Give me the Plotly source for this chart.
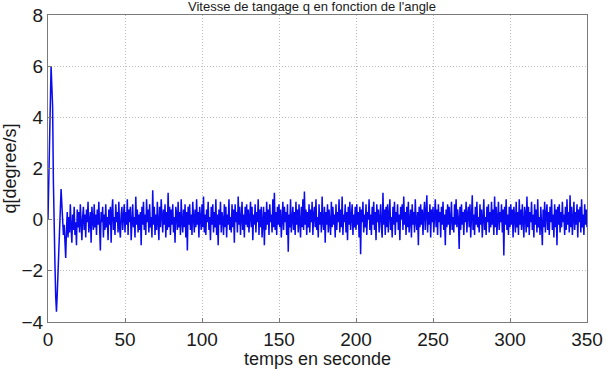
import numpy as np
import plotly.graph_objects as go

# Pitch rate q sampled every 0.5 s
dt = 0.5

q_start = [0.0, 1.5, 3.5, 5.5, 6.0, 5.2, 4.4, 1.5, -1.2, -1.7,
           -3.0, -3.6, -2.9, -2.2, -1.4, -0.4, 0.5, 1.2, 0.6, 0.1]

q_steady = [
    -0.6, -0.2, -0.9, -1.5, -0.4, 0.3, -0.7, 0.1, -0.5, 0.6, -0.3, -0.9, 0.2, -0.4, 0.5, -0.6, -0.1, -1.0, 0.4, -0.3,
    0.3, -0.5, 0.6, -0.2, -0.8, 0.1, 0.5, -0.4, 0.2, -0.7, 0.4, -0.1, 0.7, -0.5, -0.2, 0.3, -0.9, 0.5, 0.0, -0.4,
    0.6, -0.3, 0.2, -0.6, 0.4, -0.2, 0.7, -0.5, -1.2, 0.3, -0.1, 0.5, -0.7, 0.2, -0.4, 0.6, -0.3, 0.1, -0.8, 0.4,
    -0.2, 0.5, -0.9, 0.3, 0.8, -0.4, 0.1, -0.6, 0.6, -0.1, 0.3, -0.5, 0.7, -0.3, -0.7, 0.2, 0.5, -0.4, 0.0, 0.6,
    -0.5, 0.3, -0.2, 0.8, -0.6, 0.4, -0.1, 0.5, -0.8, 0.2, 0.6, -0.3, 0.1, -0.7, 0.9, -0.2, 0.4, -0.5, 0.2, -0.4,
    0.3, -1.0, 0.5, -0.2, 0.7, -0.4, 0.2, -0.6, 0.8, -0.1, 0.4, -0.5, 0.6, -0.3, 0.1, -0.7, 1.15, -0.2, 0.5, -0.6,
    0.2, -0.4, 0.7, -0.1, -0.8, 0.5, -0.3, 0.8, 0.0, -0.5, 0.4, -0.2, 0.6, -0.7, 0.3, -0.4, 1.05, -0.3, 0.5, -0.6,
    0.4, -0.2, 0.6, -0.5, 0.1, -0.9, 0.5, 0.2, -0.4, 0.7, -0.3, 0.3, -0.6, 0.8, -0.1, -0.5, 0.4, -0.3, 0.6, -0.7,
    0.3, -1.2, 0.5, -0.2, 0.6, -0.4, 0.2, -0.6, 0.7, 0.0, -0.5, 0.4, -0.3, 0.8, -0.2, 0.3, -0.7, 0.5, -0.1, -0.4,
    0.6, -0.3, 0.9, -0.5, 0.2, -0.6, 0.4, -0.1, 0.7, -0.4, 0.1, -0.8, 0.5, -0.2, 0.6, -0.5, 0.3, -0.3, 0.8, -0.6,
    0.2, -1.0, 0.4, -0.2, 0.7, -0.5, 0.3, 0.0, -0.6, 0.6, -0.3, 0.5, -0.7, 0.2, -0.2, 0.8, -0.4, 0.1, -0.5, 0.6,
    -0.3, 0.4, -0.9, 0.6, -0.1, 0.3, -0.5, 0.9, -0.2, 0.5, -0.6, 0.1, 0.7, -0.4, 0.2, -0.7, 0.5, -0.2, 0.6, -0.3,
    0.4, -0.5, 0.1, 0.7, -0.3, 0.5, -0.8, 0.2, -0.2, 0.6, -0.5, 0.3, -0.1, 0.8, -0.6, 0.4, -0.3, 0.5, -0.7, 0.2,
    0.5, -1.0, 0.3, -0.4, 0.7, -0.2, 0.4, -0.6, 0.6, -0.1, 0.2, -0.5, 0.8, -0.3, 1.05, -0.4, 0.3, -0.6, 0.5, -0.2,
    0.6, -0.3, 0.4, -0.7, 0.2, 0.7, -0.4, 0.5, -0.1, 0.3, -0.6, 0.6, -1.25, 0.2, -0.3, 0.8, -0.5, 0.1, 0.5, -0.4,
    0.3, -0.6, 0.7, -0.2, 0.4, -0.5, 0.6, -0.1, -0.7, 0.5, -0.3, 0.8, -0.4, 1.1, -0.2, 0.4, -0.6, 0.3, -0.3, 0.6,
    -0.5, 0.4, -0.1, 0.7, -0.6, 0.2, 0.5, -0.3, 0.8, -0.4, 0.1, -0.7, 0.6, -0.2, 0.3, -0.5, 0.9, -0.1, -0.4, 0.5,
    -0.9, 0.3, -0.2, 0.6, -0.5, 0.4, 0.0, -0.6, 0.7, -0.3, 0.5, -0.2, 0.2, -0.7, 0.6, -0.4, 0.3, -0.1, 0.8, -0.5,
    0.4, -0.3, 0.9, -0.6, 0.2, -0.1, 0.6, -0.5, 0.3, -0.8, 0.5, -0.2, 0.7, -0.4, 0.1, 0.6, -0.6, 0.2, -0.3, 0.5,
    -0.4, 0.6, -0.2, 0.3, -0.7, 0.5, -1.35, 0.4, -0.1, 0.7, -0.5, 0.2, -0.3, 0.6, -0.6, 0.3, 0.0, 0.8, -0.4, 0.2,
    -0.6, 0.5, -0.2, 0.7, -0.4, 0.3, -0.8, 0.6, -0.1, 0.4, -0.5, 0.2, 0.6, -0.3, -0.7, 1.05, -0.2, 0.4, -0.6, 0.5,
    -0.3, 0.6, -0.5, 0.2, 0.8, -0.4, 0.1, -0.7, 0.5, -0.2, 0.7, -0.6, 0.3, -0.1, 0.6, -0.4, 0.2, -0.8, 0.5, 0.0,
    0.6, -0.4, 0.9, -0.2, 0.3, -0.6, 0.5, -0.3, 0.7, -0.5, 0.1, 0.4, -0.7, 0.6, -0.2, 0.3, -0.5, 0.8, -0.1, -0.4,
    0.3, -1.0, 0.5, -0.3, 0.6, -0.2, 0.4, -0.6, 0.2, 0.7, -0.4, 0.1, 0.95, -0.5, 0.3, -0.2, 0.6, -0.7, 0.4, -0.1,
    0.5, -0.5, 0.2, 0.8, -0.3, 0.4, -0.6, 0.6, -0.1, 0.3, -0.7, 0.5, -0.2, 0.7, -0.4, 0.2, -1.0, 0.4, -0.3, 0.6,
    -0.2, 0.5, -0.6, 0.3, 0.7, -0.4, 0.1, -0.5, 0.6, -0.2, 0.8, -0.3, 0.4, 0.0, -1.15, 0.5, -0.4, 0.6, -0.2, 0.3,
    -0.6, 0.4, -0.1, 0.7, -0.5, 0.2, 0.5, -0.3, 0.6, -0.7, 0.3, 0.95, -0.4, 0.2, -0.6, 0.5, -0.2, 0.7, -0.3, 0.1,
    -0.5, 0.6, -0.2, 0.4, -0.7, 0.3, 0.8, -0.4, 0.1, -0.6, 0.5, -0.1, 0.6, -0.5, 0.3, -0.3, 0.7, -0.2, 0.4, -0.6,
    0.9, -0.3, 0.5, -0.6, 0.2, 0.7, -0.4, 0.3, -0.1, 0.6, -0.5, 0.4, -1.4, 0.5, -0.2, 0.8, -0.4, 0.2, -0.6, 0.5,
    -0.3, 0.6, -0.2, 0.4, -0.7, 0.5, 0.1, -0.5, 0.7, -0.3, 0.3, -0.6, 0.8, -0.2, 0.4, -0.4, 0.6, -0.1, -0.7, 0.5,
    0.2, -0.5, 0.9, -0.3, 0.5, -0.6, 0.3, -0.1, 0.7, -0.4, 0.2, -0.7, 0.6, -0.2, 0.4, -0.5, 0.8, -0.3, 0.1, -0.6,
    0.5, -0.2, -1.0, 0.4, -0.3, 0.7, -0.5, 0.2, 0.6, -0.4, 0.3, -0.6, 0.5, -0.1, 0.8, -0.4, 0.2, -0.7, 0.6, -0.3,
    0.4, -1.0, 0.5, -0.2, 0.6, -0.5, 0.3, -0.3, 0.7, -0.1, 0.2, -0.6, 0.5, -0.4, 0.8, -0.2, 0.3, -0.5, 0.95, -0.3,
    0.5, -0.6, 0.2, 0.7, -0.4, 0.3, -0.2, 0.6, -0.7, 0.4, -0.1, 0.5, -0.5, 0.8, -0.3, 0.2, -0.6, 0.6, -0.2, 0.4,
    -0.3,
]

x_ticks = [0, 50, 100, 150, 200, 250, 300, 350]
y_ticks = [-4, -2, 0, 2, 4, 6, 8]

q = np.array(q_start + q_steady)
t = np.arange(len(q)) * dt

FONT = "Liberation Sans, Arial, sans-serif"
TXT = "#1a1a1a"

fig = go.Figure()
fig.add_trace(go.Scatter(
    x=t, y=q, mode="lines",
    line=dict(color="#0a0af0", width=1.5),
    showlegend=False,
))

axis_common = dict(
    automargin=False,
    showline=True, mirror=True, linecolor="#7a7a7a", linewidth=1,
    showgrid=True, gridcolor="#bcbcbc", griddash="1px,2px", gridwidth=1,
    zeroline=False, ticks="inside", ticklen=4, tickcolor="#7a7a7a",
    tickfont=dict(family=FONT, size=19, color=TXT),
)

fig.update_xaxes(
    range=[0, 350], tickvals=x_ticks,
    title=dict(text="temps en seconde", font=dict(family=FONT, size=18, color=TXT), standoff=0),
    **axis_common,
)
fig.update_yaxes(
    range=[-4, 8], tickvals=y_ticks,
    title=dict(text="q[degree/s]", font=dict(family=FONT, size=18, color=TXT), standoff=0),
    **axis_common,
)

fig.add_annotation(
    text="Vitesse de tangage q en fonction de l'angle",
    xref="paper", yref="paper", x=0.49, y=1.0,
    yshift=9, xanchor="center", yanchor="middle", showarrow=False,
    font=dict(family=FONT, size=13, color=TXT),
)

fig.update_layout(
    width=611, height=369,
    margin=dict(l=48, r=24, t=15, b=47),
    paper_bgcolor="white", plot_bgcolor="white",
)

fig.write_html("out.html")
